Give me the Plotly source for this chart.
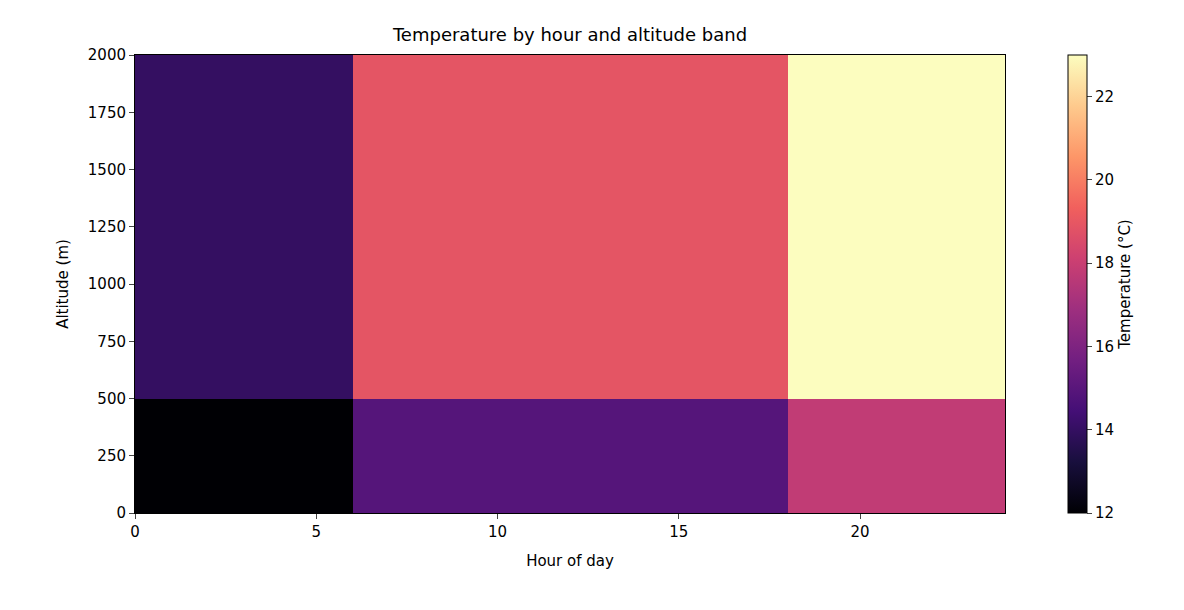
import plotly.graph_objects as go

hour_edges = [0, 6, 18, 24]
alt_edges = [0, 500, 2000]
temps = [
    [12.0, 14.9, 17.8],
    [14.0, 18.9, 23.0],
]

fig = go.Figure(go.Heatmap(
    x=hour_edges, y=alt_edges, z=temps,
    colorscale="Magma", zmin=12, zmax=23,
    colorbar=dict(
        title=dict(text="Temperature (°C)", side="right", font=dict(size=15)),
        x=1.061, xanchor="left", thickness=19, len=1, y=0.5, yanchor="middle",
        ypad=0, outlinewidth=1, outlinecolor="black",
        tickvals=[12, 14, 16, 18, 20, 22], ticks="outside", ticklen=5,
        tickfont=dict(size=15),
    ),
))

axis_common = dict(showline=True, linecolor="black", linewidth=1, mirror=True,
                   ticks="outside", ticklen=5, showgrid=False, zeroline=False,
                   tickfont=dict(size=15), title_font=dict(size=15))
fig.update_xaxes(range=[0, 24], tickvals=[0, 5, 10, 15, 20],
                 title_text="Hour of day", **axis_common)
fig.update_yaxes(range=[0, 2000], tickvals=list(range(0, 2001, 250)),
                 title_text="Altitude (m)", **axis_common)

fig.update_layout(
    width=1184, height=610,
    margin=dict(l=127, r=187, t=47, b=105),
    paper_bgcolor="white", plot_bgcolor="white",
    font=dict(family="DejaVu Sans", color="black"),
    title=dict(text="Temperature by hour and altitude band", x=0.5, xref="paper",
               y=0.957, yanchor="middle", font=dict(size=18)),
)

fig.write_html("out.html")
